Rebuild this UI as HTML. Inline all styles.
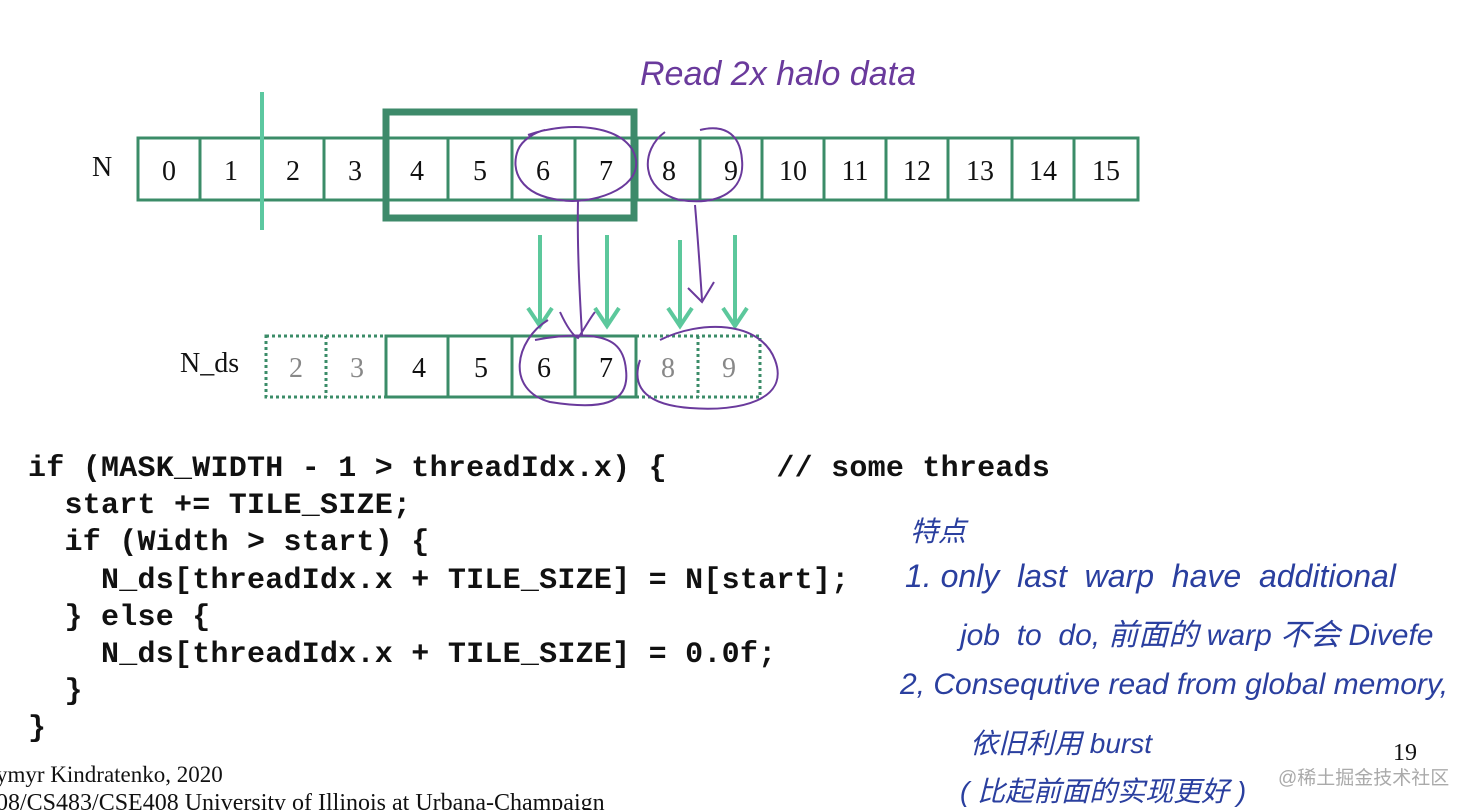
<!DOCTYPE html>
<html><head><meta charset="utf-8"><style>
body{margin:0;width:1464px;height:810px;background:#fff;overflow:hidden;position:relative;font-family:"Liberation Serif",serif}
.code{position:absolute;left:28px;top:451px;font-family:"Liberation Mono",monospace;font-weight:bold;font-size:30px;letter-spacing:0.25px;line-height:37.2px;white-space:pre;color:#111}
.hw{position:absolute;font-family:"Liberation Sans","Noto Sans CJK SC",sans-serif;font-style:italic;color:#2a3f9f;white-space:nowrap}
</style></head><body>
<svg width="1464" height="810" style="position:absolute;left:0;top:0" font-family="Liberation Serif" font-size="28">
<g fill="none" stroke="#3b8c68" stroke-width="3">
<rect x="138" y="138" width="1000" height="62"/>
<path d="M200 138V200M262 138V200M324 138V200M386 138V200M448 138V200M512 138V200M575 138V200M637 138V200M700 138V200M762 138V200M824 138V200M886 138V200M948 138V200M1012 138V200M1074 138V200"/>
<rect x="386" y="112" width="248" height="106" stroke-width="7" stroke="#3d8a6a"/>
<rect x="386" y="336" width="250" height="61"/>
<path d="M448 336V397M512 336V397M575 336V397"/>
<g stroke-dasharray="3 3"><rect x="266" y="336" width="120" height="61"/><path d="M326 336V397"/>
<rect x="636" y="336" width="124" height="61"/><path d="M698 336V397"/></g>
</g>
<line x1="262" y1="92" x2="262" y2="230" stroke="#5cc8a0" stroke-width="4"/>
<g stroke="#5cc89c" stroke-width="4" fill="none">
<path d="M540 235V325M528 308L540 326L552 308"/>
<path d="M607 235V325M595 308L607 326L619 308"/>
<path d="M680 240V325M668 308L680 326L692 308"/>
<path d="M735 235V325M723 308L735 326L747 308"/>
</g>
<g text-anchor="middle" fill="#111">
<text x="169" y="180">0</text><text x="231" y="180">1</text><text x="293" y="180">2</text><text x="355" y="180">3</text><text x="417" y="180">4</text><text x="480" y="180">5</text><text x="543" y="180">6</text><text x="606" y="180">7</text><text x="669" y="180">8</text><text x="731" y="180">9</text><text x="793" y="180">10</text><text x="855" y="180">11</text><text x="917" y="180">12</text><text x="980" y="180">13</text><text x="1043" y="180">14</text><text x="1106" y="180">15</text>
<text x="296" y="377" fill="#888">2</text><text x="357" y="377" fill="#888">3</text><text x="419" y="377">4</text><text x="481" y="377">5</text><text x="544" y="377">6</text><text x="606" y="377">7</text><text x="668" y="377" fill="#888">8</text><text x="729" y="377" fill="#888">9</text>
</g>
<text x="92" y="176" fill="#111">N</text>
<text x="180" y="372" fill="#111">N_ds</text>
<text x="1393" y="760" font-size="24" fill="#111">19</text>
<text x="-4" y="782" font-size="23" fill="#111">ymyr Kindratenko, 2020</text>
<text x="-4" y="810" font-size="24" fill="#111">08/CS483/CSE408 University of Illinois at Urbana-Champaign</text>
<g fill="none" stroke="#6a3a9c" stroke-width="2">
<path d="M528 135C570 120 630 125 636 160C640 190 590 205 560 200C520 195 510 170 518 150C522 140 535 132 545 130"/>
<path d="M578 200C577 250 580 300 582 335M560 312C566 325 572 335 578 338C585 328 590 318 595 312"/>
<path d="M665 132C640 150 640 190 680 200C720 206 745 190 742 160C740 130 720 125 700 130"/>
<path d="M695 205C698 240 700 270 702 300M688 288L702 302L714 282"/>
<path d="M548 320C515 340 505 390 550 402C600 410 630 405 626 370C624 345 610 338 590 336C570 334 545 338 535 340"/>
<path d="M660 340C700 320 760 320 775 360C790 400 740 412 690 408C650 405 630 390 640 360"/>
</g>
<text x="640" y="85" font-family="Liberation Sans" font-style="italic" font-size="34" fill="#6a3a9c">Read 2x halo data</text>
<text x="1278" y="784" font-family="Liberation Sans,Noto Sans CJK SC,sans-serif" font-size="19" fill="#aaa">@稀土掘金技术社区</text>
</svg>
<div class="code">if (MASK_WIDTH - 1 &gt; threadIdx.x) {      // some threads
  start += TILE_SIZE;
  if (Width &gt; start) {
    N_ds[threadIdx.x + TILE_SIZE] = N[start];
  } else {
    N_ds[threadIdx.x + TILE_SIZE] = 0.0f;
  }
}</div>
<div class="hw" style="left:910px;top:510px;font-size:28px">特点</div>
<div class="hw" style="left:905px;top:558px;font-size:32px">1. only &nbsp;last &nbsp;warp &nbsp;have &nbsp;additional</div>
<div class="hw" style="left:960px;top:610px;font-size:30px">job &nbsp;to &nbsp;do, 前面的 warp 不会 Divefe</div>
<div class="hw" style="left:900px;top:668px;font-size:30px">2, Consequtive read from global memory,</div>
<div class="hw" style="left:970px;top:722px;font-size:28px">依旧利用 burst</div>
<div class="hw" style="left:960px;top:770px;font-size:28px">( 比起前面的实现更好 )</div>
</body></html>
